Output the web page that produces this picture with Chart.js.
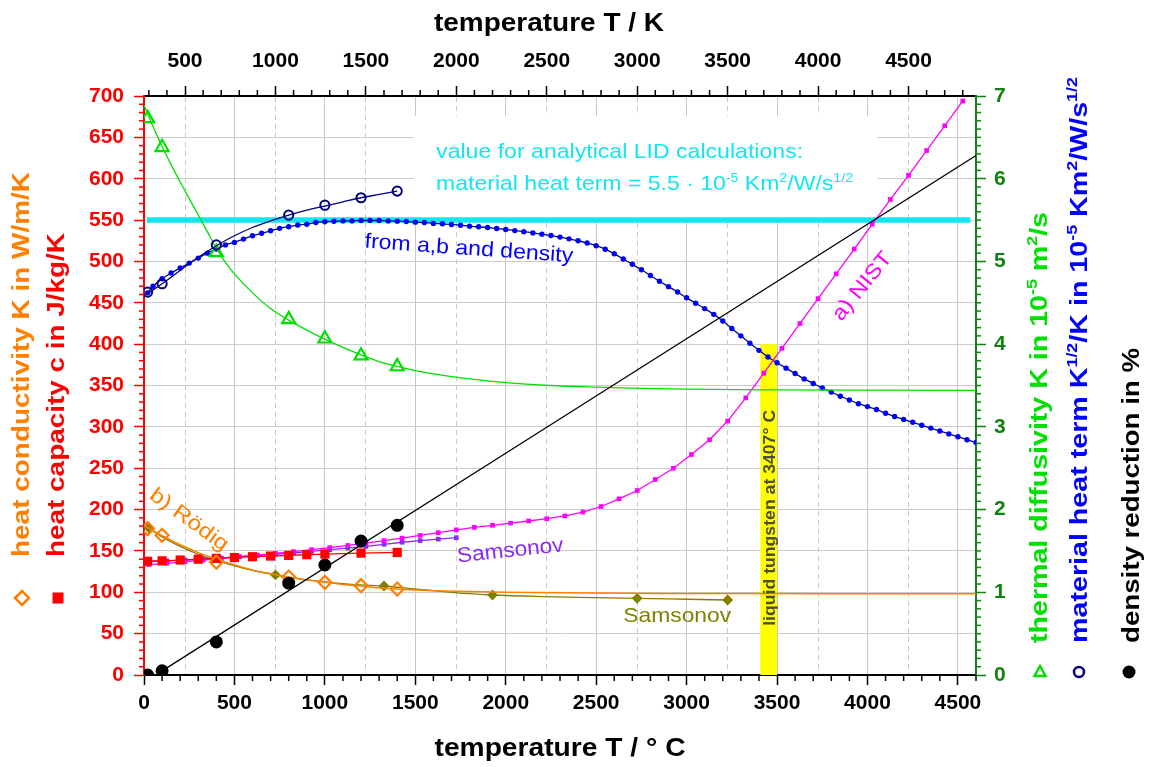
<!DOCTYPE html>
<html>
<head>
<meta charset="utf-8">
<script src="https://cdn.jsdelivr.net/npm/chart.js@4.4.1/dist/chart.umd.min.js"></script>
<style>
  html, body { margin: 0; padding: 0; background: #fff; }
  canvas { display: block; }
</style>
</head>
<body>
<canvas id="chart" width="1152" height="767"></canvas>
<script>
const FAM = '"Liberation Sans", Arial, Helvetica, sans-serif';
const K0 = 273.15;

// axis ticks
const celsiusTicks = [0, 500, 1000, 1500, 2000, 2500, 3000, 3500, 4000, 4500];
const kelvinTicks = [500, 1000, 1500, 2000, 2500, 3000, 3500, 4000, 4500];

// heat capacity, measured (red squares), °C / J/kg/K
const cpT = [20, 100, 200, 300, 400, 500, 600, 700, 800, 900, 1000, 1200, 1400];
const cpVal = [137.5, 138, 139, 140, 141, 142, 143, 143.8, 144.6, 145.4, 146.2, 147.4, 148.2];

// heat capacity NIST (magenta), K / J/kg/K
const nistK = [300, 400, 500, 600, 700, 800, 900, 1000, 1100, 1200, 1300, 1400, 1500, 1600, 1700, 1800, 1900, 2000,
  2100, 2200, 2300, 2400, 2500, 2600, 2700, 2800, 2900, 3000, 3100, 3200, 3300, 3400, 3500, 3600, 3700, 3800,
  3900, 4000, 4100, 4200, 4300, 4400, 4500, 4600, 4700, 4800];
const nistVal = [133.5, 135, 137, 139, 141, 143, 145, 147, 149.2, 151.5, 154, 156.6, 159.4, 162.4, 165.5, 168.7, 172, 175.5,
  178.5, 181, 183.6, 186.2, 189, 192.3, 197, 203.7, 213, 223, 236.4, 250, 266.6, 284.4, 307, 335, 365, 395,
  425, 455, 485, 515, 545, 575, 604, 634, 664, 694];

// heat capacity Samsonov (purple), K / J/kg/K
const samCpK = [300, 400, 500, 600, 700, 800, 900, 1000, 1100, 1200, 1300, 1400, 1500, 1600, 1700, 1800, 1900, 2000];
const samCpVal = [137.5, 138, 139, 140, 141.5, 143, 144.5, 146, 147.5, 149.5, 151.5, 153.5, 155.5, 158, 160.5, 162.5, 164.3, 166];

// heat conductivity Rödig (orange diamonds + fit), °C / W/m/K
const condT = [20, 100, 400, 800, 1000, 1200, 1400];
const condVal = [177, 169, 136.5, 118.5, 112, 108, 104];
const condFitT = [0, 100, 200, 300, 400, 500, 600, 700, 800, 900, 1000, 1100, 1200, 1300, 1400, 1600, 1800, 2000, 2500, 3000, 3500, 4000, 4600];
const condFitVal = [181, 168.5, 157.5, 148, 140, 133, 127, 122.5, 118.5, 115, 112, 109.5, 107.5, 105.5, 104, 102, 100.8, 100, 99, 98.6, 98.4, 98.3, 98.2];

// heat conductivity Samsonov (olive), K / W/m/K, with fit curve in °C
const samCondK = [300, 1000, 1600, 2200, 3000, 3500];
const samCondVal = [178, 121, 107.6, 96.7, 92.7, 90.7];
const samCondFitT = [27, 100, 200, 300, 400, 500, 600, 727, 800, 900, 1000, 1100, 1200, 1327, 1500, 1700, 1927, 2200, 2500, 2727, 3000, 3227];
const samCondFitVal = [178, 167, 155.5, 146, 138.5, 132, 126.5, 121, 118, 115, 112.5, 110.5, 109, 107.6, 104, 100, 96.7, 94.8, 93.6, 92.7, 91.6, 90.7];

// thermal diffusivity (green triangles + fit), °C / 1e-5 m²/s
const kappaT = [20, 100, 400, 800, 1000, 1200, 1400];
const kappaVal = [6.73, 6.38, 5.11, 4.30, 4.065, 3.86, 3.73];
const kappaFitT = [0, 50, 100, 150, 200, 250, 300, 350, 400, 450, 500, 600, 700, 800, 900, 1000, 1100, 1200, 1300, 1400,
  1500, 1600, 1800, 2000, 2250, 2500, 2750, 3000, 3500, 4000, 4600];
const kappaFitVal = [6.89, 6.63, 6.39, 6.17, 5.96, 5.76, 5.56, 5.36, 5.16, 4.99, 4.85, 4.62, 4.43, 4.29, 4.17, 4.06, 3.96, 3.87, 3.79, 3.73,
  3.68, 3.64, 3.58, 3.535, 3.50, 3.48, 3.465, 3.455, 3.447, 3.443, 3.44];

// material heat term, measured (navy circles + fit), °C / 1e-5 Km²/W/s^1/2
const heatT = [20, 100, 400, 800, 1000, 1200, 1400];
const heatVal = [4.63, 4.73, 5.20, 5.56, 5.68, 5.77, 5.85];
const heatFitT = [0, 100, 200, 300, 400, 500, 600, 700, 800, 900, 1000, 1100, 1200, 1300, 1400];
const heatFitVal = [4.58, 4.73, 4.89, 5.05, 5.19, 5.31, 5.41, 5.49, 5.56, 5.62, 5.67, 5.72, 5.77, 5.81, 5.85];

// material heat term from a, b and density (blue dots)
const calcT = [20, 50, 100, 150, 200, 250, 300, 350, 400, 450, 500, 550, 600, 650, 700, 750, 800, 850, 900, 950,
  1000, 1050, 1100, 1150, 1200, 1250, 1300, 1350, 1400, 1450, 1500, 1550, 1600, 1650, 1700, 1750, 1800, 1850, 1900, 1950,
  2000, 2050, 2100, 2150, 2200, 2250, 2300, 2350, 2400, 2450, 2500, 2550, 2600, 2650, 2700, 2750, 2800, 2850, 2900, 2950,
  3000, 3050, 3100, 3150, 3200, 3250, 3300, 3350, 3400, 3450, 3500, 3550, 3600, 3650, 3700, 3750, 3800, 3850, 3900, 3950,
  4000, 4050, 4100, 4150, 4200, 4250, 4300, 4350, 4400, 4450, 4500, 4550, 4600];
const calcVal = [4.62, 4.70, 4.79, 4.86, 4.92, 4.98, 5.04, 5.10, 5.15, 5.20,
  5.23, 5.27, 5.31, 5.34, 5.37, 5.40, 5.42, 5.44, 5.45, 5.47,
  5.48, 5.485, 5.49, 5.49, 5.495, 5.495, 5.495, 5.49, 5.487, 5.483,
  5.475, 5.47, 5.46, 5.455, 5.447, 5.438, 5.426, 5.419, 5.41, 5.398,
  5.386, 5.373, 5.36, 5.345, 5.33, 5.313, 5.294, 5.273, 5.25, 5.222,
  5.19, 5.148, 5.092, 5.03, 4.965, 4.90, 4.83, 4.76, 4.695, 4.63,
  4.56, 4.495, 4.43, 4.36, 4.28, 4.19, 4.10, 4.01, 3.925, 3.845,
  3.775, 3.71, 3.645, 3.58, 3.525, 3.47, 3.42, 3.37, 3.325, 3.28,
  3.245, 3.21, 3.165, 3.125, 3.09, 3.055, 3.02, 2.985, 2.95, 2.915,
  2.88, 2.845, 2.81];

// density reduction in % (black circles + line)
const densT = [20, 100, 400, 800, 1000, 1200, 1400];
const densVal = [0.0, 0.05, 0.40, 1.11, 1.33, 1.62, 1.81];
const densLineT = [100, 4600];
const densLineVal = [0.05, 6.28];

// LID value (cyan) and liquid tungsten band (yellow)
const lidT = [15, 4570];
const lidVal = [5.5, 5.5];
const meltT = [3407, 3500];
const meltVal = [400, 400];

const pts = (xs, ys) => xs.map((x, i) => ({ x: x, y: ys[i] }));
const fromK = (ks) => ks.map(k => k - K0);

const C = {
  red: '#ff0000', orange: '#ff8000', green: '#00e000', navy: '#000080', blue: '#0000ff',
  magenta: '#ff00ff', purple: '#8b2cf5', olive: '#808000', cyan: '#14e6f0', yellow: '#ffff00',
  axisGreen: '#138013', grid: '#cccccc'
};

const markers = (style, r, color, fill, bw) => ({
  showLine: false, pointStyle: style, pointRadius: r, pointHoverRadius: r,
  pointBorderColor: color, pointBackgroundColor: fill ? color : 'rgba(0,0,0,0)', pointBorderWidth: bw || 2
});
const curve = (color, w) => ({
  pointRadius: 0, borderColor: color, borderWidth: w || 1.3, cubicInterpolationMode: 'monotone', fill: false
});

const datasets = [
  Object.assign({ data: pts(meltT, meltVal), yAxisID: 'y', order: 50, pointRadius: 0, borderWidth: 0,
    borderColor: 'rgba(0,0,0,0)', backgroundColor: C.yellow, fill: 'origin' }),
  Object.assign({ data: pts(lidT, lidVal), yAxisID: 'y2', order: 40 }, curve(C.cyan, 5.5)),
  Object.assign({ data: pts(calcT, calcVal), yAxisID: 'y2', order: 30, borderColor: '#0a0a6e', borderWidth: 1.3,
    cubicInterpolationMode: 'monotone',
    pointRadius: 2.7, pointBackgroundColor: C.blue, pointBorderColor: C.blue, pointBorderWidth: 0 }),
  Object.assign({ data: pts(samCondFitT, samCondFitVal), yAxisID: 'y', order: 28 }, curve(C.olive)),
  Object.assign({ data: pts(fromK(samCondK), samCondVal), yAxisID: 'y', order: 27 }, markers('rectRot', 4, C.olive, true, 0)),
  Object.assign({ data: pts(condFitT, condFitVal), yAxisID: 'y', order: 26 }, curve(C.orange, 1.5)),
  Object.assign({ data: pts(fromK(samCpK), samCpVal), yAxisID: 'y', order: 24, borderColor: C.purple, borderWidth: 1.3,
    pointStyle: 'rect', pointRadius: 3.3, pointBackgroundColor: C.purple, pointBorderColor: C.purple, pointBorderWidth: 0 }),
  Object.assign({ data: pts(fromK(nistK), nistVal), yAxisID: 'y', order: 22, borderColor: C.magenta, borderWidth: 1.3,
    pointStyle: 'rect', pointRadius: 3.3, pointBackgroundColor: C.magenta, pointBorderColor: C.magenta, pointBorderWidth: 0 }),
  Object.assign({ data: pts(kappaFitT, kappaFitVal), yAxisID: 'y2', order: 20 }, curve(C.green)),
  Object.assign({ data: pts(kappaT, kappaVal), yAxisID: 'y2', order: 19 }, markers('triangle', 7.5, C.green, false, 2.2)),
  Object.assign({ data: pts(heatFitT, heatFitVal), yAxisID: 'y2', order: 18 }, curve(C.navy)),
  Object.assign({ data: pts(heatT, heatVal), yAxisID: 'y2', order: 17 }, markers('circle', 4.6, C.navy, false, 2)),
  Object.assign({ data: pts(cpT, cpVal), yAxisID: 'y', order: 15, borderColor: C.red, borderWidth: 1.3,
    pointStyle: 'rect', pointRadius: 6.5, pointBackgroundColor: C.red, pointBorderColor: C.red, pointBorderWidth: 0 }),
  Object.assign({ data: pts(condT, condVal), yAxisID: 'y', order: 14 }, markers('rectRot', 6.5, C.orange, false, 2.2)),
  Object.assign({ data: pts(densLineT, densLineVal), yAxisID: 'y2', order: 12 }, curve('#000', 1.3)),
  Object.assign({ data: pts(densT, densVal), yAxisID: 'y2', order: 11 }, markers('circle', 5.5, '#000', true, 0))
];
datasets.forEach(d => { d.xAxisID = 'x'; d.type = 'line'; });

// rich text with superscripts, optionally rotated and stretched to a given length
function richText(ctx, segs, x, y, opt) {
  const size = opt.size;
  const weight = opt.bold ? 'bold ' : '';
  const font = (sup) => weight + (sup ? Math.round(size * 0.62) : size) + 'px ' + FAM;
  let total = 0;
  const widths = segs.map(s => {
    ctx.font = font(s[2]);
    const w = ctx.measureText(s[0]).width;
    total += w;
    return w;
  });
  const sx = opt.len ? opt.len / total : 1;
  ctx.save();
  ctx.translate(x, y);
  ctx.rotate((opt.angle || 0) * Math.PI / 180);
  ctx.scale(sx, 1);
  let cx = opt.align === 'center' ? -total / 2 : 0;
  const base = opt.middle ? size * 0.36 : 0;
  ctx.textAlign = 'left';
  ctx.textBaseline = 'alphabetic';
  segs.forEach((s, i) => {
    ctx.font = font(s[2]);
    ctx.fillStyle = s[1];
    ctx.fillText(s[0], cx, base - (s[2] ? size * 0.42 : 0));
    cx += widths[i];
  });
  ctx.restore();
}

const decor = {
  id: 'decor',
  beforeDatasetsDraw(chart) {
    // white panel behind the LID note (hides grid)
    const { ctx, scales: { x, y } } = chart;
    const x1 = x.getPixelForValue(1492), x2 = x.getPixelForValue(4055);
    const y1 = y.getPixelForValue(676), y2 = y.getPixelForValue(553);
    ctx.save();
    ctx.fillStyle = '#fff';
    ctx.fillRect(x1, y1, x2 - x1, y2 - y1);
    ctx.restore();
  },
  afterDatasetsDraw(chart) {
    const { ctx, scales: { x, y, y2 } } = chart;
    const at = (t, v, ax) => [x.getPixelForValue(t), (ax || y).getPixelForValue(v)];
    let p;
    p = at(3453, 190);
    richText(ctx, [['liquid tungsten at 3407° C', '#4d4d33']], p[0], p[1], { size: 17, bold: true, angle: -90, align: 'center', middle: true, len: 216 });
    p = at(3965, 471);
    richText(ctx, [['a) NIST', C.magenta]], p[0], p[1], { size: 21, angle: -51, align: 'center', middle: true, len: 82 });
    p = at(1797, 5.17, y2);
    richText(ctx, [['from a,b and density', C.blue]], p[0], p[1], { size: 21, angle: 4, align: 'center', middle: true, len: 209 });
    p = at(254, 189);
    richText(ctx, [['b) Rödig', C.orange]], p[0], p[1], { size: 21, angle: 36, align: 'center', middle: true, len: 92 });
    p = at(2024, 152);
    richText(ctx, [['Samsonov', C.purple]], p[0], p[1], { size: 21, angle: -6, align: 'center', middle: true, len: 107 });
    p = at(2948, 73);
    richText(ctx, [['Samsonov', C.olive]], p[0], p[1], { size: 21, align: 'center', middle: true, len: 108 });
    p = at(1615, 624.5);
    richText(ctx, [['value for analytical LID calculations:', C.cyan]], p[0], p[1], { size: 21, len: 367 });
    p = at(1615, 585.8);
    richText(ctx, [['material heat term = 5.5 · 10', C.cyan], ['-5', C.cyan, 1], [' Km', C.cyan], ['2', C.cyan, 1],
      ['/W/s', C.cyan], ['1/2', C.cyan, 1]], p[0], p[1], { size: 21, len: 417 });
  },
  afterDraw(chart) {
    const { ctx, chartArea: a, scales: { x, x2, y, y2 } } = chart;
    ctx.save();
    ctx.lineWidth = 1.5;
    const tick = (color, x1, y1, x2_, y2_) => {
      ctx.strokeStyle = color;
      ctx.beginPath(); ctx.moveTo(x1, y1); ctx.lineTo(x2_, y2_); ctx.stroke();
    };
    for (let v = 10; v < 700; v += 10) {
      if (v % 50) { const py = y.getPixelForValue(v); tick(C.red, a.left, py, a.left - 5, py); }
    }
    for (let v = 1; v < 70; v++) {
      if (v % 10) { const py = y2.getPixelForValue(v / 10); tick(C.axisGreen, a.right, py, a.right + 5, py); }
    }
    for (let v = 100; v <= 4600; v += 100) {
      if (v % 500) { const px = x.getPixelForValue(v); tick('#000', px, a.bottom, px, a.bottom + 6); }
    }
    for (let v = 300; v <= 4800; v += 100) {
      if (v % 500) { const px = x2.getPixelForValue(v); tick('#000', px, a.top, px, a.top - 6); }
    }
    ctx.restore();

    // axis titles
    richText(ctx, [['temperature T / K', '#000']], 549, 31, { size: 25, bold: true, align: 'center', len: 230 });
    richText(ctx, [['temperature T / ° C', '#000']], 560, 756, { size: 25, bold: true, align: 'center', len: 251 });
    richText(ctx, [['heat conductivity K in W/m/K', C.orange]], 28.5, 557, { size: 23, bold: true, angle: -90, len: 385 });
    richText(ctx, [['heat capacity c in J/kg/K', C.red]], 63.5, 557, { size: 23, bold: true, angle: -90, len: 324 });
    richText(ctx, [['thermal diffusivity K in 10', C.green], ['-5', C.green, 1], [' m', C.green], ['2', C.green, 1], ['/s', C.green]],
      1047, 643, { size: 24, bold: true, angle: -90, len: 431 });
    richText(ctx, [['material heat term K', C.blue], ['1/2', C.blue, 1], ['/K in 10', C.blue], ['-5', C.blue, 1], [' Km', C.blue],
      ['2', C.blue, 1], ['/W/s', C.blue], ['1/2', C.blue, 1]], 1087, 643, { size: 24, bold: true, angle: -90, len: 566 });
    richText(ctx, [['density reduction in %', '#000']], 1138.5, 643, { size: 24, bold: true, angle: -90, len: 295 });

    // legend symbols
    ctx.save();
    ctx.lineWidth = 2.5;
    ctx.strokeStyle = C.orange;
    ctx.beginPath(); ctx.moveTo(15, 598); ctx.lineTo(22, 591); ctx.lineTo(29, 598); ctx.lineTo(22, 605); ctx.closePath(); ctx.stroke();
    ctx.fillStyle = C.red;
    ctx.fillRect(52.5, 592.5, 11, 11);
    ctx.strokeStyle = C.green;
    ctx.beginPath(); ctx.moveTo(1040, 666); ctx.lineTo(1045.5, 676); ctx.lineTo(1034.5, 676); ctx.closePath(); ctx.stroke();
    ctx.strokeStyle = C.navy;
    ctx.beginPath(); ctx.arc(1079, 672, 5, 0, Math.PI * 2); ctx.stroke();
    ctx.fillStyle = '#000';
    ctx.beginPath(); ctx.arc(1129, 672, 6.5, 0, Math.PI * 2); ctx.fill();
    ctx.restore();
  }
};

const tickFont = { family: FAM, size: 21, weight: 'bold' };

new Chart(document.getElementById('chart'), {
  type: 'line',
  data: { datasets: datasets },
  options: {
    responsive: false,
    animation: false,
    parsing: true,
    layout: { padding: 0, autoPadding: false },
    plugins: { legend: { display: false }, tooltip: { enabled: false } },
    scales: {
      x: {
        type: 'linear', position: 'bottom', min: 0, max: 4600,
        afterBuildTicks: (s) => { s.ticks = celsiusTicks.map(v => ({ value: v })); },
        afterFit: (s) => { s.height = 92; },
        grid: { color: '#c8c8c8', lineWidth: 1, tickLength: 10, tickColor: '#000', tickWidth: 1.5 },
        border: { color: '#000', width: 2 },
        ticks: { color: '#000', font: tickFont, padding: 6, maxRotation: 0, autoSkip: false, callback: (v) => String(v) }
      },
      x2: {
        type: 'linear', position: 'top', min: K0, max: 4600 + K0,
        afterBuildTicks: (s) => { s.ticks = kelvinTicks.map(v => ({ value: v })); },
        afterFit: (s) => { s.height = 96; },
        grid: { color: '#c8c8c8', lineWidth: 1, tickLength: 10, tickColor: '#000', tickWidth: 1.5 },
        border: { color: '#000', width: 2, dash: [5, 4] },
        ticks: { color: '#000', font: tickFont, padding: 12, maxRotation: 0, autoSkip: false, callback: (v) => String(v) }
      },
      y: {
        type: 'linear', position: 'left', min: 0, max: 700,
        afterFit: (s) => { s.width = 144; },
        grid: { color: C.grid, lineWidth: 1, tickLength: 10, tickColor: C.red, tickWidth: 1.5 },
        border: { color: C.red, width: 2 },
        ticks: { stepSize: 50, color: C.red, font: tickFont, padding: 10, callback: (v) => String(v) }
      },
      y2: {
        type: 'linear', position: 'right', min: 0, max: 7,
        afterFit: (s) => { s.width = 176; },
        grid: { drawOnChartArea: false, tickLength: 10, tickColor: C.axisGreen, tickWidth: 1.5 },
        border: { color: C.axisGreen, width: 2 },
        ticks: { stepSize: 1, color: C.axisGreen, font: tickFont, padding: 8, callback: (v) => String(v) }
      }
    }
  },
  plugins: [decor]
});
</script>
</body>
</html>
